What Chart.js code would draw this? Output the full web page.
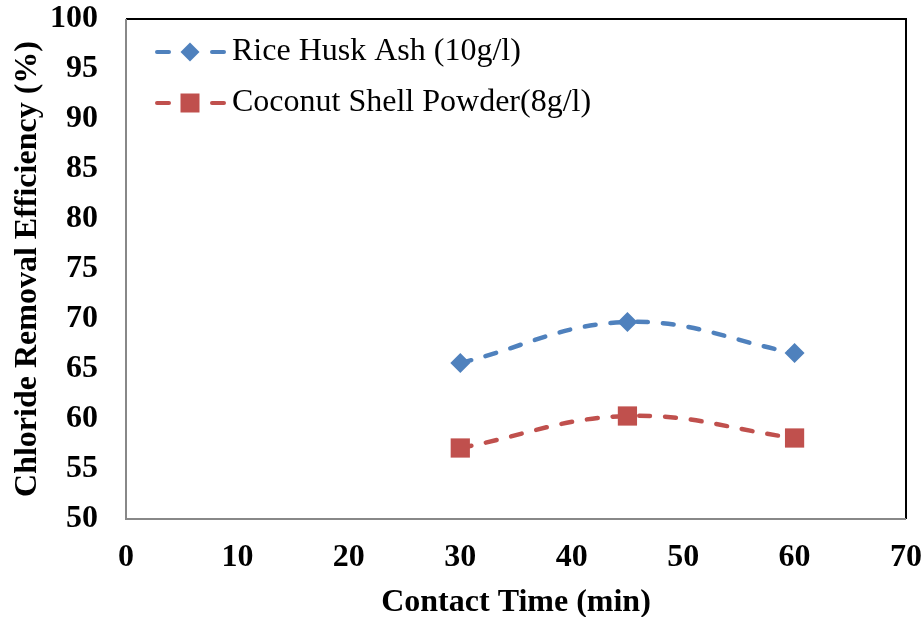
<!DOCTYPE html>
<html>
<head>
<meta charset="utf-8">
<script src="https://cdn.jsdelivr.net/npm/chart.js@4.4.0/dist/chart.umd.min.js"></script>
<style>
  html, body { margin: 0; padding: 0; background: #fff; }
  #wrap { width: 924px; height: 617px; }
</style>
</head>
<body>
<div id="wrap"><canvas id="myChart" width="924" height="617"></canvas></div>
<script>
// data
const contactTime = [30, 45, 60];
const riceHusk = [65.6, 69.7, 66.6];
const coconutShell = [57.1, 60.3, 58.1];
const seriesNames = ['Rice Husk Ash (10g/l)', 'Coconut Shell Powder(8g/l)'];

const BLUE = '#4F81BD';
const RED = '#C0504D';
const SERIF = "'Liberation Serif', 'Times New Roman', serif";

const toPoints = (xs, ys) => xs.map((x, i) => ({x: x, y: ys[i]}));

const drawMarker = (ctx, style, x, y, colour) => {
	ctx.fillStyle = colour;
	ctx.beginPath();
	if (style == 'rectRot') {
		ctx.moveTo(x - 9.5, y); ctx.lineTo(x, y - 9.5); ctx.lineTo(x + 9.5, y); ctx.lineTo(x, y + 9.5);
	} else {
		ctx.rect(x - 9.5, y - 9.5, 19, 19);
	}
	ctx.closePath();
	ctx.fill();
};

// legend inside the plot area, Excel style: dash - marker - dash, then the name
const insideLegend = {
	id: 'insideLegend',
	afterDraw(chart) {
		const a = chart.chartArea;
		const ctx = chart.ctx;
		ctx.save();
		chart.data.datasets.forEach((ds, i) => {
			const cy = a.top + 33 + i * 51;
			const cx = a.left + 64;
			ctx.strokeStyle = ds.borderColor;
			ctx.lineWidth = 4;
			ctx.lineCap = 'round';
			ctx.beginPath();
			ctx.moveTo(cx - 33, cy); ctx.lineTo(cx - 21, cy);
			ctx.moveTo(cx + 22, cy); ctx.lineTo(cx + 34, cy);
			ctx.stroke();
			drawMarker(ctx, ds.pointStyle, cx, cy, ds.backgroundColor);
			ctx.fillStyle = '#000';
			ctx.font = '32px ' + SERIF;
			ctx.textBaseline = 'middle';
			ctx.textAlign = 'left';
			ctx.fillText(ds.label, a.left + 106, cy);
		});
		ctx.restore();
	}
};

// plot frame taken from the scale ends: grey left/bottom, black top/right
const frame = {
	id: 'frame',
	afterDatasetsDraw(chart) {
		const xs = chart.scales.x, ys = chart.scales.y;
		const l = xs.getPixelForValue(xs.min), r = xs.getPixelForValue(xs.max);
		const t = ys.getPixelForValue(ys.max), b = ys.getPixelForValue(ys.min);
		const ctx = chart.ctx;
		ctx.save();
		ctx.lineWidth = 2;
		ctx.strokeStyle = '#000';
		ctx.beginPath();
		ctx.moveTo(l, t); ctx.lineTo(r, t); ctx.lineTo(r, b);
		ctx.stroke();
		ctx.strokeStyle = '#888';
		ctx.beginPath();
		ctx.moveTo(l, t); ctx.lineTo(l, b); ctx.lineTo(r, b);
		ctx.stroke();
		ctx.restore();
	}
};

new Chart(document.getElementById('myChart'), {
	type: 'line',
	data: {
		datasets: [{
			label: seriesNames[0],
			data: toPoints(contactTime, riceHusk),
			borderColor: BLUE,
			backgroundColor: BLUE,
			borderWidth: 4.5,
			borderDash: [11, 15],
			borderCapStyle: 'round',
			tension: 0.4,
			pointStyle: 'rectRot',
			pointRadius: 10,
			pointBorderWidth: 0,
			fill: false
		}, {
			label: seriesNames[1],
			data: toPoints(contactTime, coconutShell),
			borderColor: RED,
			backgroundColor: RED,
			borderWidth: 4.5,
			borderDash: [11, 15],
			borderCapStyle: 'round',
			tension: 0.4,
			pointStyle: 'rect',
			pointRadius: 13.6,
			pointBorderWidth: 0,
			fill: false
		}]
	},
	options: {
		responsive: false,
		animation: false,
		layout: {
			padding: {top: 19, right: 18, left: 0, bottom: 0}
		},
		plugins: {
			legend: {display: false},
			tooltip: {enabled: false}
		},
		scales: {
			x: {
				type: 'linear',
				min: 0,
				max: 70,
				ticks: {
					stepSize: 10,
					padding: 20,
					color: '#000',
					font: {family: SERIF, size: 32, weight: 'bold'}
				},
				grid: {display: false, drawTicks: false},
				border: {display: false},
				title: {
					display: true,
					text: 'Contact Time (min)',
					color: '#000',
					font: {family: SERIF, size: 32, weight: 'bold', lineHeight: 0.9},
					padding: {top: 17, bottom: 0}
				},
				afterFit(scale) {
					scale.height = 98;
					scale.paddingLeft = 0;
					scale.paddingRight = 0;
				}
			},
			y: {
				min: 50,
				max: 100,
				ticks: {
					stepSize: 5,
					padding: 28,
					color: '#000',
					font: {family: SERIF, size: 32, weight: 'bold'}
				},
				grid: {display: false, drawTicks: false},
				border: {display: false},
				title: {
					display: true,
					text: 'Chloride Removal Efficiency (%)',
					color: '#000',
					font: {family: SERIF, size: 32, weight: 'bold'},
					padding: {top: 9, bottom: 0}
				},
				afterFit(scale) {
					scale.width = 126;
					scale.paddingTop = 0;
					scale.paddingBottom = 0;
				}
			}
		}
	},
	plugins: [frame, insideLegend]
});
</script>
</body>
</html>
